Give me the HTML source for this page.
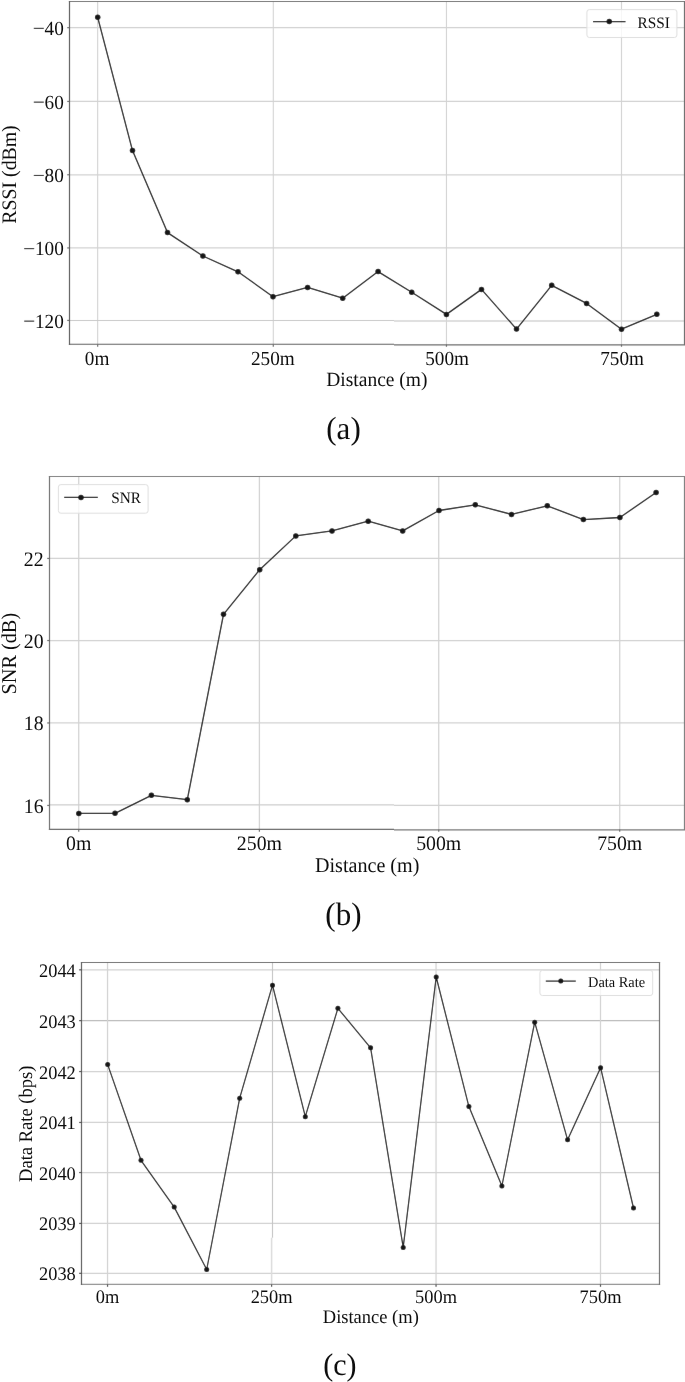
<!DOCTYPE html>
<html><head><meta charset="utf-8"><style>
html,body{margin:0;padding:0;background:#fff;}
svg{display:block;}
text{font-family:"Liberation Serif", serif;fill:#111111;text-rendering:geometricPrecision;}
</style></head><body>
<svg width="685" height="1382" viewBox="0 0 685 1382">
<defs><filter id="bl" x="0" y="0" width="685" height="1382" filterUnits="userSpaceOnUse"><feConvolveMatrix order="3" kernelMatrix="0.00163 0.03713 0.00163 0.03713 0.84497 0.03713 0.00163 0.03713 0.00163" divisor="1" edgeMode="duplicate" preserveAlpha="false"/></filter><filter id="tb" x="0" y="0" width="685" height="1382" filterUnits="userSpaceOnUse"><feConvolveMatrix order="3" kernelMatrix="0.00001 0.00381 0.00001 0.00381 0.98471 0.00381 0.00001 0.00381 0.00001" divisor="1" edgeMode="none" preserveAlpha="false"/></filter></defs>
<rect width="685" height="1382" fill="#fff"/>
<g filter="url(#bl)">
<rect width="685" height="1382" fill="#fff"/>
<line x1="69.5" y1="27.65" x2="684.5" y2="27.65" stroke="#d2d2d2" stroke-width="1.25"/>
<line x1="69.5" y1="101.44" x2="684.5" y2="101.44" stroke="#d2d2d2" stroke-width="1.25"/>
<line x1="69.5" y1="174.75" x2="684.5" y2="174.75" stroke="#d2d2d2" stroke-width="1.25"/>
<line x1="69.5" y1="247.93" x2="684.5" y2="247.93" stroke="#d2d2d2" stroke-width="1.25"/>
<line x1="97.65" y1="1.5" x2="97.65" y2="344.5" stroke="#d2d2d2" stroke-width="1.1"/>
<line x1="273.3" y1="1.5" x2="273.3" y2="344.5" stroke="#d2d2d2" stroke-width="1.1"/>
<line x1="446.45" y1="1.5" x2="446.45" y2="344.5" stroke="#d2d2d2" stroke-width="1.1"/>
<line x1="621.5" y1="1.5" x2="621.5" y2="344.5" stroke="#d2d2d2" stroke-width="1.1"/>
<line x1="69.5" y1="320.45" x2="394" y2="320.45" stroke="#c9c9c9" stroke-width="1.1"/>
<line x1="394" y1="321.0" x2="684.5" y2="321.0" stroke="#d4d4d4" stroke-width="1.5"/>
<line x1="68.9" y1="1.5" x2="685.1" y2="1.5" stroke="#717171" stroke-width="1.2"/>
<line x1="68.9" y1="344.3" x2="394" y2="344.3" stroke="#5a5a5a" stroke-width="1.1"/>
<line x1="394" y1="344.9" x2="685" y2="344.9" stroke="#6a6a6a" stroke-width="1.4"/>
<line x1="69.5" y1="0.9" x2="69.5" y2="345.1" stroke="#515151" stroke-width="1.2"/>
<line x1="684.5" y1="0.9" x2="684.5" y2="345.1" stroke="#6a6a6a" stroke-width="1.2"/>
<line x1="67.2" y1="27.65" x2="69.5" y2="27.65" stroke="#6a6a6a" stroke-width="1.2"/>
<line x1="67.2" y1="101.44" x2="69.5" y2="101.44" stroke="#6a6a6a" stroke-width="1.2"/>
<line x1="67.2" y1="174.75" x2="69.5" y2="174.75" stroke="#6a6a6a" stroke-width="1.2"/>
<line x1="67.2" y1="247.93" x2="69.5" y2="247.93" stroke="#6a6a6a" stroke-width="1.2"/>
<line x1="67.2" y1="320.44" x2="69.5" y2="320.44" stroke="#6a6a6a" stroke-width="1.2"/>
<line x1="97.65" y1="344.5" x2="97.65" y2="346.8" stroke="#6a6a6a" stroke-width="1.2"/>
<line x1="273.3" y1="344.5" x2="273.3" y2="346.8" stroke="#6a6a6a" stroke-width="1.2"/>
<line x1="446.45" y1="344.5" x2="446.45" y2="346.8" stroke="#6a6a6a" stroke-width="1.2"/>
<line x1="621.5" y1="344.5" x2="621.5" y2="346.8" stroke="#6a6a6a" stroke-width="1.2"/>
<line x1="33.8" y1="28.35" x2="43.8" y2="28.35" stroke="#111111" stroke-width="1.05"/>
<line x1="33.8" y1="102.14" x2="43.8" y2="102.14" stroke="#111111" stroke-width="1.05"/>
<line x1="33.8" y1="175.45" x2="43.8" y2="175.45" stroke="#111111" stroke-width="1.05"/>
<line x1="24.2" y1="248.63" x2="34.2" y2="248.63" stroke="#111111" stroke-width="1.05"/>
<line x1="24.2" y1="321.14" x2="34.2" y2="321.14" stroke="#111111" stroke-width="1.05"/>
<rect x="586.9" y="9.6" width="90" height="27.9" rx="2.5" fill="#ffffff" fill-opacity="0.8" stroke="#dedede" stroke-width="1"/>
<line x1="593" y1="21.6" x2="625.5" y2="21.6" stroke="#161616" stroke-width="1.3"/>
<circle cx="609.25" cy="21.6" r="2.75" fill="#161616"/>
<polyline points="97.7,17.3 132.5,150.6 167.5,232.6 202.9,256 238,271.8 273,296.7 307.6,287.4 342.7,298.2 378.1,271.6 411.7,292.3 446.45,314.4 481.5,289.4 516.5,329.1 551.7,285.3 586.6,303.4 621.5,329.2 656.8,314.3" fill="none" stroke="#161616" stroke-width="1.3" stroke-linejoin="round"/>
<circle cx="97.7" cy="17.3" r="2.75" fill="#161616"/>
<circle cx="132.5" cy="150.6" r="2.75" fill="#161616"/>
<circle cx="167.5" cy="232.6" r="2.75" fill="#161616"/>
<circle cx="202.9" cy="256" r="2.75" fill="#161616"/>
<circle cx="238" cy="271.8" r="2.75" fill="#161616"/>
<circle cx="273" cy="296.7" r="2.75" fill="#161616"/>
<circle cx="307.6" cy="287.4" r="2.75" fill="#161616"/>
<circle cx="342.7" cy="298.2" r="2.75" fill="#161616"/>
<circle cx="378.1" cy="271.6" r="2.75" fill="#161616"/>
<circle cx="411.7" cy="292.3" r="2.75" fill="#161616"/>
<circle cx="446.45" cy="314.4" r="2.75" fill="#161616"/>
<circle cx="481.5" cy="289.4" r="2.75" fill="#161616"/>
<circle cx="516.5" cy="329.1" r="2.75" fill="#161616"/>
<circle cx="551.7" cy="285.3" r="2.75" fill="#161616"/>
<circle cx="586.6" cy="303.4" r="2.75" fill="#161616"/>
<circle cx="621.5" cy="329.2" r="2.75" fill="#161616"/>
<circle cx="656.8" cy="314.3" r="2.75" fill="#161616"/>
<line x1="49.5" y1="558.44" x2="684.5" y2="558.44" stroke="#d2d2d2" stroke-width="1.25"/>
<line x1="49.5" y1="640.54" x2="684.5" y2="640.54" stroke="#d2d2d2" stroke-width="1.25"/>
<line x1="49.5" y1="722.95" x2="684.5" y2="722.95" stroke="#d2d2d2" stroke-width="1.25"/>
<line x1="78.7" y1="476.5" x2="78.7" y2="829.5" stroke="#d2d2d2" stroke-width="1.25"/>
<line x1="259.4" y1="476.5" x2="259.4" y2="829.5" stroke="#d2d2d2" stroke-width="1.25"/>
<line x1="438.7" y1="476.5" x2="438.7" y2="829.5" stroke="#d2d2d2" stroke-width="1.25"/>
<line x1="619.7" y1="476.5" x2="619.7" y2="829.5" stroke="#d2d2d2" stroke-width="1.25"/>
<line x1="49.5" y1="804.95" x2="394" y2="804.95" stroke="#cdcdcd" stroke-width="1.2"/>
<line x1="394" y1="805.4" x2="684.5" y2="805.4" stroke="#d0d0d0" stroke-width="1.4"/>
<line x1="48.9" y1="476.5" x2="685.1" y2="476.5" stroke="#7c7c7c" stroke-width="1.2"/>
<line x1="48.9" y1="829.4" x2="394" y2="829.4" stroke="#626262" stroke-width="1.2"/>
<line x1="394" y1="829.8" x2="685" y2="829.8" stroke="#747474" stroke-width="1.3"/>
<line x1="49.5" y1="475.9" x2="49.5" y2="830.1" stroke="#696969" stroke-width="1.2"/>
<line x1="684.5" y1="475.9" x2="684.5" y2="830.1" stroke="#7c7c7c" stroke-width="1.2"/>
<line x1="47.2" y1="558.44" x2="49.5" y2="558.44" stroke="#6a6a6a" stroke-width="1.2"/>
<line x1="47.2" y1="640.54" x2="49.5" y2="640.54" stroke="#6a6a6a" stroke-width="1.2"/>
<line x1="47.2" y1="722.95" x2="49.5" y2="722.95" stroke="#6a6a6a" stroke-width="1.2"/>
<line x1="47.2" y1="805.44" x2="49.5" y2="805.44" stroke="#6a6a6a" stroke-width="1.2"/>
<line x1="78.7" y1="829.5" x2="78.7" y2="831.8" stroke="#6a6a6a" stroke-width="1.2"/>
<line x1="259.4" y1="829.5" x2="259.4" y2="831.8" stroke="#6a6a6a" stroke-width="1.2"/>
<line x1="438.7" y1="829.5" x2="438.7" y2="831.8" stroke="#6a6a6a" stroke-width="1.2"/>
<line x1="619.7" y1="829.5" x2="619.7" y2="831.8" stroke="#6a6a6a" stroke-width="1.2"/>
<rect x="58.4" y="484.6" width="89.7" height="28.6" rx="2.5" fill="#ffffff" fill-opacity="0.8" stroke="#dedede" stroke-width="1"/>
<line x1="64.2" y1="497.4" x2="97.8" y2="497.4" stroke="#161616" stroke-width="1.3"/>
<circle cx="81" cy="497.4" r="2.75" fill="#161616"/>
<polyline points="78.8,813.4 115,813.3 151.4,795.3 187.3,799.7 223.5,614.3 259.7,569.7 295.8,535.9 332,530.9 368.2,521.2 402.7,530.9 439,510.5 475.3,504.8 511.5,514.4 547.3,505.8 583.4,519.6 619.9,517.5 656.1,492.5" fill="none" stroke="#161616" stroke-width="1.3" stroke-linejoin="round"/>
<circle cx="78.8" cy="813.4" r="2.75" fill="#161616"/>
<circle cx="115" cy="813.3" r="2.75" fill="#161616"/>
<circle cx="151.4" cy="795.3" r="2.75" fill="#161616"/>
<circle cx="187.3" cy="799.7" r="2.75" fill="#161616"/>
<circle cx="223.5" cy="614.3" r="2.75" fill="#161616"/>
<circle cx="259.7" cy="569.7" r="2.75" fill="#161616"/>
<circle cx="295.8" cy="535.9" r="2.75" fill="#161616"/>
<circle cx="332" cy="530.9" r="2.75" fill="#161616"/>
<circle cx="368.2" cy="521.2" r="2.75" fill="#161616"/>
<circle cx="402.7" cy="530.9" r="2.75" fill="#161616"/>
<circle cx="439" cy="510.5" r="2.75" fill="#161616"/>
<circle cx="475.3" cy="504.8" r="2.75" fill="#161616"/>
<circle cx="511.5" cy="514.4" r="2.75" fill="#161616"/>
<circle cx="547.3" cy="505.8" r="2.75" fill="#161616"/>
<circle cx="583.4" cy="519.6" r="2.75" fill="#161616"/>
<circle cx="619.9" cy="517.5" r="2.75" fill="#161616"/>
<circle cx="656.1" cy="492.5" r="2.75" fill="#161616"/>
<line x1="81.5" y1="969.83" x2="659.5" y2="969.83" stroke="#d2d2d2" stroke-width="1.25"/>
<line x1="81.5" y1="1020.62" x2="659.5" y2="1020.62" stroke="#bababa" stroke-width="1.25"/>
<line x1="81.5" y1="1071.54" x2="659.5" y2="1071.54" stroke="#d2d2d2" stroke-width="1.25"/>
<line x1="81.5" y1="1122.46" x2="659.5" y2="1122.46" stroke="#d2d2d2" stroke-width="1.25"/>
<line x1="81.5" y1="1172.54" x2="659.5" y2="1172.54" stroke="#d2d2d2" stroke-width="1.25"/>
<line x1="81.5" y1="1223.44" x2="659.5" y2="1223.44" stroke="#d2d2d2" stroke-width="1.25"/>
<line x1="81.5" y1="1273.34" x2="659.5" y2="1273.34" stroke="#d2d2d2" stroke-width="1.25"/>
<line x1="107.54" y1="962.5" x2="107.54" y2="1284.4" stroke="#d2d2d2" stroke-width="1.25"/>
<line x1="436.05" y1="962.5" x2="436.05" y2="1284.4" stroke="#d2d2d2" stroke-width="1.25"/>
<line x1="600.5" y1="962.5" x2="600.5" y2="1284.4" stroke="#d2d2d2" stroke-width="1.25"/>
<line x1="272.5" y1="962.5" x2="272.5" y2="1237.7" stroke="#c4c4c4" stroke-width="1.1"/>
<line x1="271.6" y1="1237.7" x2="271.6" y2="1284.4" stroke="#dcdcdc" stroke-width="1.5"/>
<line x1="80.9" y1="962.5" x2="660.1" y2="962.5" stroke="#696969" stroke-width="1.2"/>
<line x1="80.9" y1="1284.4" x2="660.1" y2="1284.4" stroke="#8f8f8f" stroke-width="1.2"/>
<line x1="81.5" y1="961.9" x2="81.5" y2="1285" stroke="#555555" stroke-width="1.2"/>
<line x1="659.5" y1="961.9" x2="659.5" y2="1285" stroke="#696969" stroke-width="1.2"/>
<line x1="79.1" y1="969.83" x2="81.5" y2="969.83" stroke="#4a4a4a" stroke-width="1.2"/>
<line x1="79.1" y1="1020.62" x2="81.5" y2="1020.62" stroke="#4a4a4a" stroke-width="1.2"/>
<line x1="79.1" y1="1071.54" x2="81.5" y2="1071.54" stroke="#4a4a4a" stroke-width="1.2"/>
<line x1="79.1" y1="1122.46" x2="81.5" y2="1122.46" stroke="#4a4a4a" stroke-width="1.2"/>
<line x1="79.1" y1="1172.54" x2="81.5" y2="1172.54" stroke="#4a4a4a" stroke-width="1.2"/>
<line x1="79.1" y1="1223.44" x2="81.5" y2="1223.44" stroke="#4a4a4a" stroke-width="1.2"/>
<line x1="79.1" y1="1273.34" x2="81.5" y2="1273.34" stroke="#4a4a4a" stroke-width="1.2"/>
<line x1="107.54" y1="1284.4" x2="107.54" y2="1286.8" stroke="#4a4a4a" stroke-width="1.2"/>
<line x1="271.6" y1="1284.4" x2="271.6" y2="1286.8" stroke="#4a4a4a" stroke-width="1.2"/>
<line x1="436.05" y1="1284.4" x2="436.05" y2="1286.8" stroke="#4a4a4a" stroke-width="1.2"/>
<line x1="600.5" y1="1284.4" x2="600.5" y2="1286.8" stroke="#4a4a4a" stroke-width="1.2"/>
<rect x="539.9" y="970.4" width="112.8" height="25.1" rx="2.5" fill="#ffffff" fill-opacity="0.8" stroke="#dedede" stroke-width="1"/>
<line x1="545.8" y1="981.1" x2="575.8" y2="981.1" stroke="#161616" stroke-width="1.2"/>
<circle cx="560.8" cy="981.1" r="2.5" fill="#161616"/>
<polyline points="107.7,1064.6 141,1160.3 174.2,1207.1 206.7,1269.5 239.7,1098.2 272.5,985.2 305.3,1116.7 337.9,1008.3 370.6,1047.8 403.2,1247.4 436.2,977 468.9,1106.6 501.9,1186 534.7,1022.2 567.6,1139.8 600.6,1067.7 633.5,1208" fill="none" stroke="#161616" stroke-width="1.2" stroke-linejoin="round"/>
<circle cx="107.7" cy="1064.6" r="2.5" fill="#161616"/>
<circle cx="141" cy="1160.3" r="2.5" fill="#161616"/>
<circle cx="174.2" cy="1207.1" r="2.5" fill="#161616"/>
<circle cx="206.7" cy="1269.5" r="2.5" fill="#161616"/>
<circle cx="239.7" cy="1098.2" r="2.5" fill="#161616"/>
<circle cx="272.5" cy="985.2" r="2.5" fill="#161616"/>
<circle cx="305.3" cy="1116.7" r="2.5" fill="#161616"/>
<circle cx="337.9" cy="1008.3" r="2.5" fill="#161616"/>
<circle cx="370.6" cy="1047.8" r="2.5" fill="#161616"/>
<circle cx="403.2" cy="1247.4" r="2.5" fill="#161616"/>
<circle cx="436.2" cy="977" r="2.5" fill="#161616"/>
<circle cx="468.9" cy="1106.6" r="2.5" fill="#161616"/>
<circle cx="501.9" cy="1186" r="2.5" fill="#161616"/>
<circle cx="534.7" cy="1022.2" r="2.5" fill="#161616"/>
<circle cx="567.6" cy="1139.8" r="2.5" fill="#161616"/>
<circle cx="600.6" cy="1067.7" r="2.5" fill="#161616"/>
<circle cx="633.5" cy="1208" r="2.5" fill="#161616"/>

</g>
<g filter="url(#tb)"><text transform="translate(63.8,34.85) scale(1,1.04)" text-anchor="end" font-size="19.2">40</text>
<text transform="translate(63.8,108.64) scale(1,1.04)" text-anchor="end" font-size="19.2">60</text>
<text transform="translate(63.8,181.95) scale(1,1.04)" text-anchor="end" font-size="19.2">80</text>
<text transform="translate(63.8,255.13) scale(1,1.04)" text-anchor="end" font-size="19.2">100</text>
<text transform="translate(63.8,327.64) scale(1,1.04)" text-anchor="end" font-size="19.2">120</text>
<text transform="translate(97.05,364.7) scale(1,1.04)" text-anchor="middle" font-size="19.2">0m</text>
<text transform="translate(272.8,364.7) scale(1,1.04)" text-anchor="middle" font-size="19.2">250m</text>
<text transform="translate(447.05,364.7) scale(1,1.04)" text-anchor="middle" font-size="19.2">500m</text>
<text transform="translate(622.1,364.7) scale(1,1.04)" text-anchor="middle" font-size="19.2">750m</text>
<text transform="translate(376.9,385.6) scale(1,1.04)" text-anchor="middle" font-size="19.5">Distance (m)</text>
<text transform="translate(15.6,174.5) rotate(-90) scale(1,1.04)" text-anchor="middle" font-size="19.8">RSSI (dBm)</text>
<text transform="translate(637.5,27.7) scale(1,1.04)" font-size="15.3">RSSI</text>
<text transform="translate(343.5,439) scale(1,1.04)" text-anchor="middle" font-size="31">(a)</text>
<text transform="translate(43.6,565.84) scale(1,1.04)" text-anchor="end" font-size="19.8">22</text>
<text transform="translate(43.6,647.94) scale(1,1.04)" text-anchor="end" font-size="19.8">20</text>
<text transform="translate(43.6,730.35) scale(1,1.04)" text-anchor="end" font-size="19.8">18</text>
<text transform="translate(43.6,812.84) scale(1,1.04)" text-anchor="end" font-size="19.8">16</text>
<text transform="translate(78.7,850.4) scale(1,1.04)" text-anchor="middle" font-size="19.8">0m</text>
<text transform="translate(259.4,850.4) scale(1,1.04)" text-anchor="middle" font-size="19.8">250m</text>
<text transform="translate(438.7,850.4) scale(1,1.04)" text-anchor="middle" font-size="19.8">500m</text>
<text transform="translate(619.7,850.4) scale(1,1.04)" text-anchor="middle" font-size="19.8">750m</text>
<text transform="translate(367.2,871.9) scale(1,1.04)" text-anchor="middle" font-size="20.1">Distance (m)</text>
<text transform="translate(15.5,653.7) rotate(-90) scale(1,1.04)" text-anchor="middle" font-size="20.3">SNR (dB)</text>
<text transform="translate(111.2,503) scale(1,1.04)" font-size="15.3">SNR</text>
<text transform="translate(343.4,925.2) scale(1,1.05)" text-anchor="middle" font-size="31">(b)</text>
<text transform="translate(75.8,976.83) scale(1,1.04)" text-anchor="end" font-size="18.4">2044</text>
<text transform="translate(75.8,1027.62) scale(1,1.04)" text-anchor="end" font-size="18.4">2043</text>
<text transform="translate(75.8,1078.54) scale(1,1.04)" text-anchor="end" font-size="18.4">2042</text>
<text transform="translate(75.8,1129.46) scale(1,1.04)" text-anchor="end" font-size="18.4">2041</text>
<text transform="translate(75.8,1179.54) scale(1,1.04)" text-anchor="end" font-size="18.4">2040</text>
<text transform="translate(75.8,1230.44) scale(1,1.04)" text-anchor="end" font-size="18.4">2039</text>
<text transform="translate(75.8,1280.34) scale(1,1.04)" text-anchor="end" font-size="18.4">2038</text>
<text transform="translate(107.54,1302.9) scale(1,1.04)" text-anchor="middle" font-size="18.4">0m</text>
<text transform="translate(271.6,1302.9) scale(1,1.04)" text-anchor="middle" font-size="18.4">250m</text>
<text transform="translate(436.05,1302.9) scale(1,1.04)" text-anchor="middle" font-size="18.4">500m</text>
<text transform="translate(600.5,1302.9) scale(1,1.04)" text-anchor="middle" font-size="18.4">750m</text>
<text transform="translate(370.8,1323.1) scale(1,1.04)" text-anchor="middle" font-size="18.5">Distance (m)</text>
<text transform="translate(32.2,1123.8) rotate(-90) scale(1,1.04)" text-anchor="middle" font-size="18.55">Data Rate (bps)</text>
<text transform="translate(588,987.4) scale(1,1.04)" font-size="14.4">Data Rate</text>
<text transform="translate(339.9,1375.2) scale(1,1.04)" text-anchor="middle" font-size="30">(c)</text></g>
</svg>
</body></html>
